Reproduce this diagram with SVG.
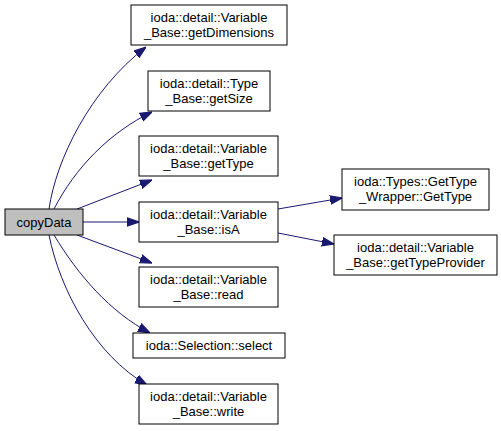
<svg xmlns="http://www.w3.org/2000/svg" width="501" height="431" viewBox="0 0 501 431">
<style>
.n rect{fill:#fff;stroke:#000;stroke-width:1}
.n text{font-family:"Liberation Sans",Arial,sans-serif;font-size:13px;text-anchor:middle;fill:#000}
.e path{fill:none;stroke:#191970;stroke-width:1;marker-end:url(#ah)}
</style>
<defs>
<marker id="ah" markerUnits="userSpaceOnUse" markerWidth="12" markerHeight="10" refX="10" refY="3.5" orient="auto" viewBox="0 0 10 7">
<polygon points="0,0 10,3.5 0,7" fill="#191970" stroke="#191970"/>
</marker>
</defs>
<rect width="501" height="431" fill="#fff"/>
<g class="e" id="edges">
<path d="M49,209 C56,160 90,90 146,47"/>
<path d="M54,209 C75,168 110,132 152,112"/>
<path d="M77,209 L152,180"/>
<path d="M83,222 L139,222"/>
<path d="M77,235 L152,263"/>
<path d="M54,235 C78,275 110,312 150,333"/>
<path d="M49,235 C60,290 95,355 147,385"/>
<path d="M278,209 L342,198"/>
<path d="M278,233 L334,244"/>
</g>
<g class="n" id="copyData"><rect x="5" y="209" width="78" height="26" style="fill:#bfbfbf"/><text x="44" y="226.5">copyData</text></g>
<g class="n" id="getDimensions"><rect x="131" y="5" width="156" height="40"/><text x="209" y="22">ioda::detail::Variable</text><text x="209" y="37">_Base::getDimensions</text></g>
<g class="n" id="getSize"><rect x="148" y="71" width="122" height="40"/><text x="209" y="88">ioda::detail::Type</text><text x="209" y="103">_Base::getSize</text></g>
<g class="n" id="getType"><rect x="139" y="136" width="139" height="40"/><text x="208.5" y="153">ioda::detail::Variable</text><text x="208.5" y="168">_Base::getType</text></g>
<g class="n" id="isA"><rect x="139" y="202" width="139" height="40"/><text x="208.5" y="219">ioda::detail::Variable</text><text x="208.5" y="234">_Base::isA</text></g>
<g class="n" id="read"><rect x="139" y="267" width="139" height="40"/><text x="208.5" y="284">ioda::detail::Variable</text><text x="208.5" y="299">_Base::read</text></g>
<g class="n" id="select"><rect x="133" y="333" width="152" height="25"/><text x="209" y="350">ioda::Selection::select</text></g>
<g class="n" id="write"><rect x="139" y="384" width="139" height="40"/><text x="208.5" y="401">ioda::detail::Variable</text><text x="208.5" y="416">_Base::write</text></g>
<g class="n" id="GetType"><rect x="342" y="169" width="147" height="41"/><text x="415.5" y="186">ioda::Types::GetType</text><text x="415.5" y="201">_Wrapper::GetType</text></g>
<g class="n" id="getTypeProvider"><rect x="334" y="235" width="163" height="40"/><text x="415.5" y="252">ioda::detail::Variable</text><text x="415.5" y="267">_Base::getTypeProvider</text></g>
</svg>
